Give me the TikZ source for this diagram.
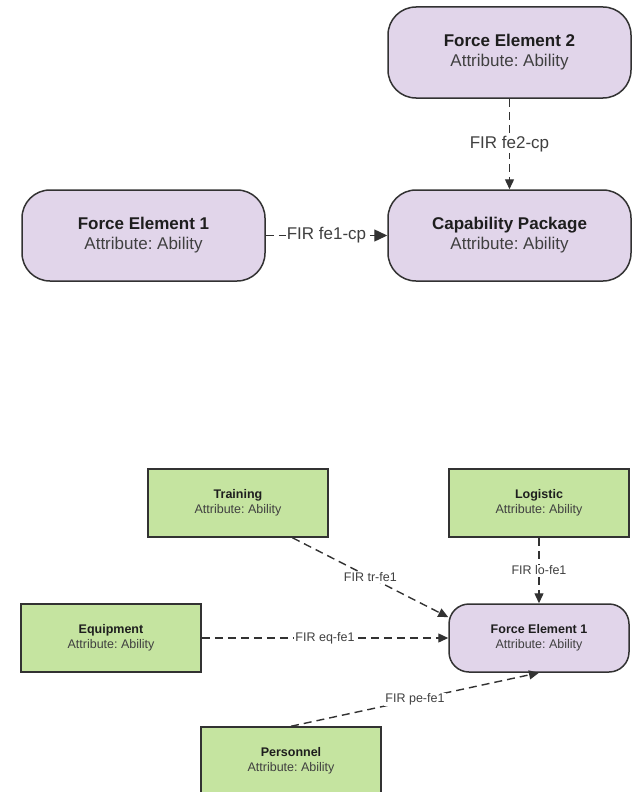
\documentclass[tikz,border=0pt]{standalone}
\usepackage{fontspec}
\setmainfont{Liberation Sans}
\usepackage{xcolor}
\usetikzlibrary{arrows.meta,calc}
\definecolor{lilac}{RGB}{225,213,234}
\definecolor{leaf}{RGB}{197,228,160}
\definecolor{rim}{RGB}{50,50,50}
\definecolor{ink}{RGB}{64,64,64}
\definecolor{boldink}{RGB}{30,30,30}
\frenchspacing
\newcommand{\elname}[1]{\textcolor{boldink}{\textbf{#1}}}
\tikzstyle{element} = [rectangle, rounded corners=28pt, minimum width=243pt, minimum height=91pt, align=center, draw=rim, line width=1.5pt, fill=lilac, text=ink, font=\fontsize{17}{20}\selectfont]
\tikzstyle{smallelement} = [element, rounded corners=20pt, minimum width=180pt, minimum height=68pt, font=\fontsize{12.5}{15.5}\selectfont]
\tikzstyle{resource} = [rectangle, minimum width=180pt, minimum height=68pt, align=center, draw=rim, line width=1.5pt, fill=leaf, text=ink, font=\fontsize{12.5}{15.5}\selectfont]
\tikzstyle{fir} = [dash pattern=on 8pt off 5pt, line width=1.4pt, draw=rim, -{Triangle[length=10pt,width=9pt]}]
\tikzstyle{firlabel} = [fill=white, inner sep=1pt, text=ink]

\begin{document}
\begin{tikzpicture}[x=1pt, y=-1pt]
        \clip (0,0) rectangle (635,792);

        % Nodes
        \node (fe2) [element] at (509.5,52.5) {\elname{Force Element 2}\\Attribute: Ability};
        \node (cp) [element] at (509.5,235.5) {\elname{Capability Package}\\Attribute: Ability};
        \node (fe1) [element] at (143.5,235.5) {\elname{Force Element 1}\\Attribute: Ability};

        \node (tr) [resource] at (238,503) {\elname{Training}\\Attribute: Ability};
        \node (lo) [resource] at (539,503) {\elname{Logistic}\\Attribute: Ability};
        \node (eq) [resource] at (111,638) {\elname{Equipment}\\Attribute: Ability};
        \node (fe1b) [smallelement] at (539,638) {\elname{Force Element 1}\\Attribute: Ability};
        \node (pe) [resource] at (291,761) {\elname{Personnel}\\Attribute: Ability};

        % Arrows
        \draw [fir] (fe2) -- node [firlabel, font=\fontsize{17}{20}\selectfont] {FIR fe2-cp} (cp);
        \draw [fir, -{Triangle[length=13pt,width=12pt]}] (fe1) -- node [firlabel, font=\fontsize{17}{20}\selectfont] {FIR fe1-cp} (cp);

        \draw [fir] ($(tr.south)!0.6!(tr.south east)$) -- node [firlabel, font=\fontsize{12.5}{15}\selectfont] {FIR tr-fe1} ($(fe1b.north west)!0.2!(fe1b.south west)$);
        \draw [fir] (lo) -- node [firlabel, font=\fontsize{12.5}{15}\selectfont] {FIR lo-fe1} (fe1b);
        \draw [fir] (eq) -- node [firlabel, font=\fontsize{12.5}{15}\selectfont] {FIR eq-fe1} (fe1b);
        \draw [fir] (pe.north) -- node [firlabel, font=\fontsize{12.5}{15}\selectfont] {FIR pe-fe1} (fe1b.south);

\end{tikzpicture}
\end{document}
